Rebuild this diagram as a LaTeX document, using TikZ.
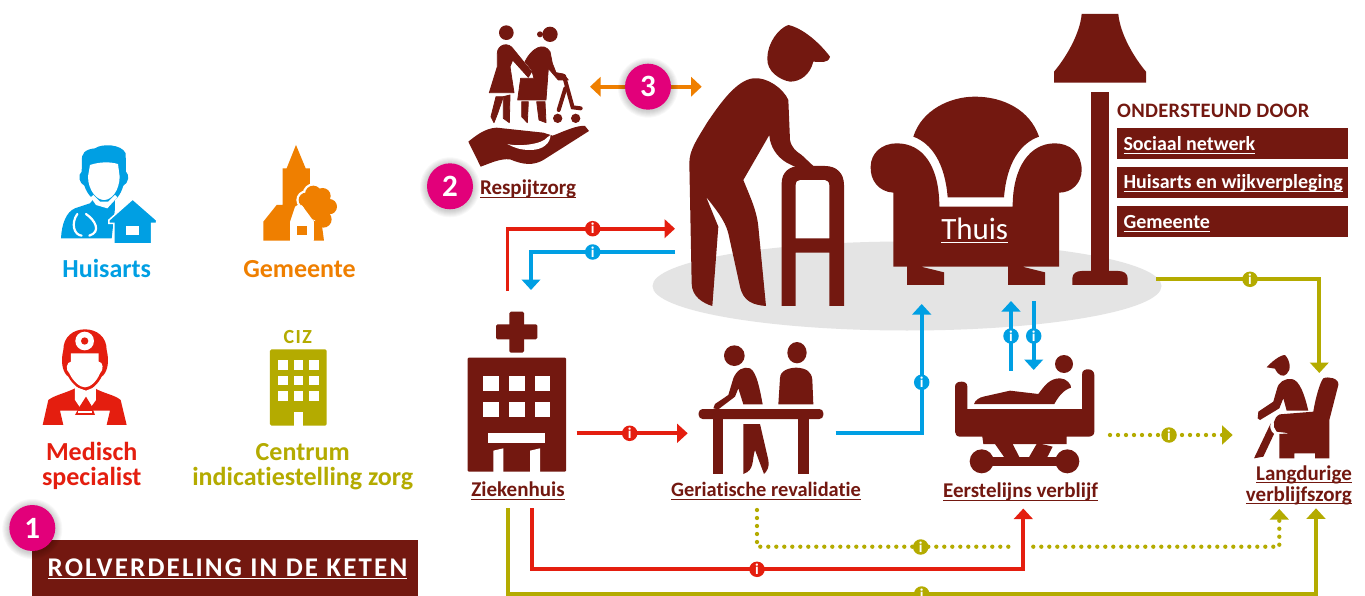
\documentclass[tikz,border=0pt]{standalone}
\usepackage{fontspec}
\setmainfont{Carlito}[Ligatures=NoCommon]
\usetikzlibrary{arrows.meta,calc}
\definecolor{maroon}{HTML}{731810}
\definecolor{cblue}{HTML}{009FE3}
\definecolor{corange}{HTML}{EF7F00}
\definecolor{cred}{HTML}{E41E0F}
\definecolor{colive}{HTML}{B4AB00}
\definecolor{cmag}{HTML}{E2007A}
\definecolor{cgrey}{HTML}{E4E4E4}
\newcommand{\ulx}[1]{\setbox0=\hbox{#1}\rlap{\vrule width\wd0 height -2.2pt depth 3.3pt}\box0}
\newcommand{\fsz}[1]{\fontsize{#1}{#1}\selectfont}
\newcommand{\softshadow}[2]{\foreach \rr in {24,25,26,27,28,29,30}{\fill[black,opacity=.028] (#1,#2+1) circle[radius=\rr];}}
\tikzset{
 za/.style={shift={(0pt,-120pt)},x=.33333pt,y=-.33333pt},
 zb/.style={shift={(420pt,0pt)},x=.33333pt,y=-.33333pt},
 zc/.style={shift={(860pt,0pt)},x=.33333pt,y=-.33333pt},
 zd/.style={shift={(450pt,-300pt)},x=.33333pt,y=-.33333pt},
 ze/.style={shift={(900pt,-290pt)},x=.33333pt,y=-.33333pt},
 lbl/.style={anchor=base,inner sep=0pt,font=\bfseries\fsz{21}},
 role/.style={anchor=base,inner sep=0pt,align=center,font=\bfseries\fontsize{26}{25}\selectfont},
 numdot/.style={circle,fill=cmag,inner sep=0pt,minimum size=46pt,text=white,font=\bfseries\fsz{31}},
 ibadge/.style={circle,fill=#1,inner sep=0pt,minimum size=15.5pt,text=white,font=\bfseries\fsz{15}},
 flow/.style={line width=3.8pt,-{Triangle[width=18.5pt,length=10.5pt]}},
 dots/.style={line width=4.3pt,line cap=round,dash pattern=on 0pt off 8pt},
 dotflow/.style={dots,-{Triangle[width=18.5pt,length=10.5pt]}},
 tag/.style={fill=maroon,anchor=north west,inner sep=0pt,minimum width=231pt,minimum height=31pt},
 tagtext/.style={anchor=base west,inner sep=0pt,text=white,font=\bfseries\fsz{20}},
 fat/.style={fill=maroon,draw=maroon,line width=.8pt,line join=round},
}
\begin{document}
\begin{tikzpicture}[x=1pt,y=-1pt]
\useasboundingbox (0,0) rectangle (1365,596);
\clip (0,0) rectangle (1365,596);
\fill[white] (0,0) rectangle (1365,596);
% floor
\fill[cgrey] (907,286) ellipse[x radius=254.5,y radius=44.5];

% ---------- Huisarts icon
\begin{scope}[za]
 \fill[cblue] (183,355) .. controls (185,310) and (200,275) .. (225,265) -- (270,250) -- (285,232) -- (345,232) -- (345,265) -- (335,355) -- cycle;
 \fill[cblue] (246,125) .. controls (243,100) and (255,88) .. (285,85) .. controls (305,70) and (365,72) .. (377,100) -- (378,155) .. controls (390,165) and (385,190) .. (370,197) .. controls (362,225) and (345,250) .. (315,252) .. controls (285,250) and (262,225) .. (253,197) .. controls (238,190) and (232,165) .. (245,155) -- cycle;
 \fill[white] (264,170) -- (270,135) .. controls (300,125) and (330,125) .. (354,132) -- (359,170) .. controls (358,212) and (335,240) .. (312,240) .. controls (290,240) and (265,212) .. (264,170) -- cycle;
 \fill[white] (272,232) -- (288,255) -- (322,265) -- (352,232) -- (345,225) -- (325,245) -- (300,245) -- (280,225) -- cycle;
 \draw[white,line width=2.2pt,line cap=round] (232,282) .. controls (212,310) and (222,345) .. (245,347);
 \draw[white,line width=2.2pt,line cap=round] (258,282) .. controls (285,300) and (305,335) .. (268,347);
 \fill[cblue,draw=white,line width=1.5pt] (398,237) -- (470,300) -- (470,310) -- (455,310) -- (455,372) -- (342,372) -- (342,310) -- (327,310) -- (327,300) -- cycle;
 \fill[white] (378,317) rectangle (418,345);
\end{scope}
% ---------- Gemeente icon
\begin{scope}[za]
 \fill[corange] (888,75) -- (917,145) -- (930,145) -- (930,230) -- (885,260) -- (870,305) -- (870,362) -- (790,362) -- (790,305) -- (830,255) -- (848,255) -- (848,145) -- (860,145) -- cycle;
 \foreach \cx/\cy/\cr in {918/240/22,940/222/25,968/228/24}{\fill[white] (\cx,\cy) circle[radius=\cr+7];}
 \fill[corange] (940,362) -- (972,362) -- (965,310) -- (935,300) -- cycle;
 \foreach \cx/\cy/\cr in {918/240/22,940/222/25,968/228/24,988/260/23,970/298/25,945/265/35}{\fill[corange] (\cx,\cy) circle[radius=\cr];}
 \fill[white] (905,255) -- (942,305) -- (942,362) -- (872,362) -- (872,305) -- cycle;
 \fill[corange] (890,317) rectangle (921,345);
\end{scope}
% ---------- Medisch specialist icon
\begin{scope}[za]
 \fill[cred] (128,915) -- (145,840) .. controls (165,825) and (195,820) .. (225,805) -- (285,805) .. controls (310,820) and (345,825) .. (362,840) -- (380,915) -- (320,915) -- (330,872) -- (180,872) -- (190,915) -- cycle;
 \fill[cred] (190,690) .. controls (180,730) and (190,760) .. (205,770) .. controls (215,790) and (240,812) .. (255,812) .. controls (275,812) and (295,790) .. (305,770) .. controls (320,760) and (330,730) .. (320,690) .. controls (320,650) and (290,628) .. (255,628) .. controls (220,628) and (190,650) .. (190,690) -- cycle;
 \fill[white] (213,700) -- (296,700) -- (296,725) .. controls (310,725) and (312,750) .. (300,760) .. controls (290,785) and (270,802) .. (255,802) .. controls (240,802) and (220,785) .. (208,760) .. controls (195,750) and (200,725) .. (213,725) -- cycle;
 \fill[white] (254,663) circle[radius=28];
 \fill[cred] (254,663) circle[radius=11];
 \fill[white] (225,800) -- (225,840) -- (240,862) -- (258,838) -- (272,862) -- (288,840) -- (288,800) -- (258,812) -- cycle;
 \fill[cred] (258,830) -- (275,858) -- (285,885) -- (225,885) -- (240,858) -- cycle;
 \fill[white] (235,872) rectangle (275,878);
\end{scope}
% ---------- CIZ building
\begin{scope}[za]
 \fill[colive,rounded corners=1.5pt] (810,688) rectangle (980,917);
 \foreach \wx in {834,881,928}{\foreach \wy in {720,767,814}{\fill[white] (\wx,\wy) rectangle ++(29,29);}}
 \fill[white] (881,875) rectangle (909,917);
\end{scope}
% ---------- Respijtzorg icon
\begin{scope}[zb]
 \fill[maroon] (259,98) circle[radius=22];
 \fill[maroon] (390,103) circle[radius=23];
 \fill[maroon] (360,103) circle[radius=9];
 \fill[fat] (232,160) .. controls (232,135) and (265,122) .. (282,150) -- (335,215) -- (325,232) -- (278,180) -- (270,200) -- (282,278) -- (208,278) -- (232,200) -- cycle;
 \fill[fat] (228,290) -- (250,290) -- (233,340) -- (222,368) -- (213,350) -- cycle;
 \fill[fat] (250,290) -- (270,285) -- (268,368) -- (250,355) -- cycle;
 \fill[fat] (315,185) .. controls (335,145) and (370,125) .. (390,155) -- (397,190) -- (408,218) -- (430,222) -- (445,240) -- (415,240) -- (385,205) -- (378,300) -- (293,300) -- (302,235) -- (342,235) -- (335,210) -- cycle;
 \fill[fat] (305,305) -- (325,305) -- (322,368) -- (305,350) -- cycle;
 \fill[fat] (350,305) -- (375,305) -- (378,368) -- (357,360) -- cycle;
 \draw[maroon,line width=4pt,line cap=round] (432,228) -- (458,322) -- (482,325);
 \draw[maroon,line width=4pt,line cap=round] (436,265) -- (416,330);
 \fill[maroon] (413,355) circle[radius=14];
 \fill[maroon] (467,355) circle[radius=14];
 \fill[maroon] (145,425) .. controls (170,405) and (195,385) .. (230,383) -- (370,398) -- (398,407) .. controls (430,395) and (470,375) .. (495,378) -- (507,393) -- (370,480) .. controls (340,497) and (310,495) .. (270,478) .. controls (240,475) and (210,490) .. (182,500) -- cycle;
 \fill[white] (262,432) .. controls (290,440) and (365,435) .. (382,412) -- (392,405) .. controls (390,430) and (370,450) .. (330,450) .. controls (300,450) and (280,442) .. (262,432) -- cycle;
\end{scope}
% ---------- Elderly person with walker
\begin{scope}[zb]
 \fill[maroon] (1105,75) .. controls (1150,85) and (1200,130) .. (1230,170) .. controls (1225,192) and (1200,185) .. (1180,185) .. controls (1170,225) and (1140,245) .. (1110,245) .. controls (1080,240) and (1040,215) .. (1042,175) .. controls (1042,130) and (1075,85) .. (1105,75) -- cycle;
 \fill[maroon] (1000,235) .. controls (1040,230) and (1090,265) .. (1105,300) -- (1110,420) .. controls (1115,445) and (1130,455) .. (1145,465) -- (1180,498) -- (1145,510) -- (1100,488) .. controls (1070,470) and (1050,440) .. (1048,405) -- (970,540) .. controls (990,590) and (1010,630) .. (1015,680) -- (1038,918) .. controls (1000,915) and (970,905) .. (960,860) -- (925,700) .. controls (915,660) and (885,625) .. (858,590) -- (895,680) -- (877,918) .. controls (850,910) and (815,890) .. (815,850) -- (808,490) .. controls (808,450) and (830,420) .. (860,370) .. controls (900,310) and (950,240) .. (1000,235) -- cycle;
 \fill[maroon,even odd rule] (1085,918) -- (1085,550) .. controls (1085,515) and (1110,498) .. (1140,498) -- (1215,498) .. controls (1250,498) and (1272,520) .. (1272,555) -- (1272,918) -- (1228,918) -- (1228,758) -- (1127,758) -- (1127,918) -- cycle
  (1127,715) -- (1228,715) -- (1228,555) .. controls (1228,545) and (1220,540) .. (1215,540) -- (1140,540) .. controls (1132,540) and (1127,545) .. (1127,555) -- cycle;
\end{scope}
% ---------- Armchair and lamp
\begin{scope}[zc]
 \fill[maroon] (160,410) .. controls (185,330) and (270,290) .. (345,290) .. controls (430,290) and (510,330) .. (537,410) .. controls (480,430) and (440,490) .. (432,592) -- (263,592) .. controls (255,490) and (215,430) .. (160,410) -- cycle;
 \fill[maroon] (100,578) .. controls (55,575) and (30,540) .. (32,500) .. controls (32,460) and (65,430) .. (110,430) .. controls (190,430) and (238,500) .. (238,620) -- (458,620) .. controls (458,500) and (510,430) .. (585,430) .. controls (630,430) and (665,460) .. (665,510) .. controls (665,550) and (635,578) .. (597,578) -- (597,800) -- (487,800) -- (555,817) -- (555,855) -- (444,855) -- (444,800) -- (183,800) -- (252,817) -- (252,855) -- (141,855) -- (141,800) -- (100,800) -- cycle;
 \fill[maroon] (665,42) -- (775,42) .. controls (780,100) and (820,170) .. (858,215) -- (858,248) -- (582,248) -- (582,215) .. controls (620,170) and (660,100) .. (665,42) -- cycle;
 \fill[maroon] (693,276) rectangle (748,815);
 \fill[maroon] (637,855) -- (637,835) .. controls (637,820) and (650,813) .. (665,813) -- (775,813) .. controls (790,813) and (803,820) .. (803,835) -- (803,855) -- cycle;
\end{scope}
% ---------- Hospital
\begin{scope}[zd]
 \fill[maroon,rounded corners=1.5pt] (178,35) rectangle (222,158);
 \fill[maroon,rounded corners=1.5pt] (138,73) rectangle (262,118);
 \fill[maroon,rounded corners=1pt] (53,173) rectangle (348,515);
 \foreach \wx in {100,177,254}{\foreach \wy in {227,305}{\fill[white] (\wx,\wy) rectangle ++(47,47);}}
 \fill[white] (115,398) rectangle (285,430);
 \fill[white] (130,516) -- (130,452) -- (160,445) -- (160,516) -- cycle;
 \fill[white] (240,516) -- (240,452) -- (270,445) -- (270,516) -- cycle;
\end{scope}
% ---------- Rehabilitation icon
\begin{scope}[zd]
 \fill[maroon,rounded corners=4pt] (746,327) rectangle (1120,357);
 \fill[maroon] (790,350) rectangle (820,522);
 \fill[maroon] (1045,350) rectangle (1076,522);
 \fill[maroon] (853,167) circle[radius=31];
 \fill[maroon] (850,235) .. controls (860,210) and (880,198) .. (900,205) .. controls (920,215) and (930,270) .. (938,313) -- (880,313) -- (865,265) -- (855,290) -- (805,328) -- (790,325) -- (795,312) -- (835,285) -- cycle;
 \fill[maroon] (880,372) -- (930,372) -- (955,480) .. controls (960,500) and (950,515) .. (942,522) -- (915,450) .. controls (905,480) and (915,510) .. (880,522) -- cycle;
 \fill[maroon] (1041,158) ellipse[x radius=29,y radius=32];
 \fill[maroon] (985,313) -- (990,235) .. controls (990,210) and (1020,203) .. (1040,203) .. controls (1070,205) and (1085,215) .. (1087,240) -- (1090,313) -- cycle;
\end{scope}
% ---------- Bed icon
\begin{scope}[ze]
 \fill[maroon] (165,290) .. controls (165,278) and (175,275) .. (185,275) .. controls (195,275) and (202,280) .. (202,290) -- (202,357) -- (546,357) -- (546,255) .. controls (546,240) and (555,238) .. (565,238) .. controls (575,238) and (583,245) .. (583,255) -- (583,425) .. controls (583,435) and (575,440) .. (565,440) -- (500,440) -- (500,462) -- (250,462) -- (247,440) -- (180,440) .. controls (170,440) and (165,432) .. (165,425) -- cycle;
 \fill[maroon] (285,462) -- (315,505) -- (360,505) -- (338,462) -- cycle;
 \fill[maroon] (410,462) -- (385,505) -- (440,505) -- (458,470) -- (425,462) -- cycle;
 \fill[maroon] (245,500) rectangle (502,528);
 \fill[maroon] (245,514) circle[radius=36];
 \fill[maroon] (502,514) circle[radius=36];
 \fill[maroon] (492,222) circle[radius=27];
 \fill[maroon] (222,342) .. controls (225,330) and (240,322) .. (250,320) -- (330,302) -- (415,312) .. controls (435,285) and (450,265) .. (480,265) .. controls (500,265) and (515,285) .. (513,293) .. controls (490,300) and (475,320) .. (463,342) -- cycle;
\end{scope}
% ---------- Long-term care icon
\begin{scope}[ze]
 \fill[maroon] (1100,232) .. controls (1115,215) and (1140,195) .. (1155,195) .. controls (1170,210) and (1175,240) .. (1160,252) .. controls (1150,262) and (1135,258) .. (1125,236) -- cycle;
 \fill[maroon] (1130,300) .. controls (1135,275) and (1155,265) .. (1175,267) .. controls (1200,270) and (1215,320) .. (1225,362) -- (1160,362) -- (1150,325) -- (1138,355) -- (1080,390) -- (1073,385) -- (1075,365) -- (1120,335) -- cycle;
 \fill[maroon] (1240,365) .. controls (1245,330) and (1260,275) .. (1270,265) .. controls (1285,258) and (1318,265) .. (1315,285) -- (1288,390) -- (1288,505) -- (1245,505) -- (1245,490) -- (1183,490) -- (1183,505) -- (1138,505) -- (1138,432) -- (1170,430) -- (1130,425) .. controls (1115,410) and (1120,380) .. (1140,373) -- cycle;
 \fill[maroon] (1112,400) -- (1062,505) -- (1090,500) -- (1122,432) .. controls (1112,425) and (1108,410) .. (1112,400) -- cycle;
\end{scope}

% ---------- connector ends
\coordinate (rA) at (507.5,291);  \coordinate (rB) at (507.5,228.7); \coordinate (rC) at (675,228.7);
\coordinate (bA) at (675,252);    \coordinate (bB) at (531,252);     \coordinate (bC) at (531,290);
\coordinate (oA) at (590,86.7);   \coordinate (oB) at (701.7,86.7);
\coordinate (yA) at (1156,279.3); \coordinate (yB) at (1319.3,279.3);\coordinate (yC) at (1319.3,373);
\coordinate (zkOutR) at (576.7,433.3); \coordinate (grIn) at (687.7,433.3);
\coordinate (grOut) at (835.7,433.3); \coordinate (grT) at (921.7,433.3); \coordinate (thIn) at (921.7,304);
\coordinate (evU1) at (1011,370.7); \coordinate (evU2) at (1011,301);
\coordinate (evD1) at (1033.7,301); \coordinate (evD2) at (1033.7,370);
\coordinate (evOut) at (1110,435); \coordinate (lvIn) at (1232.7,435);
\coordinate (rdA) at (532,508.3); \coordinate (rdB) at (532,569.3); \coordinate (rdC) at (1023.3,569.3); \coordinate (rdD) at (1023.3,508.5);
\coordinate (olA) at (508.3,508.3); \coordinate (olB) at (508.3,594); \coordinate (olC) at (1316,594); \coordinate (olD) at (1316,508.3);
\coordinate (dtA) at (757,510); \coordinate (dtB) at (757,546.7); \coordinate (dtC) at (1013.3,546.7);
\coordinate (dtD) at (1033.3,546.7); \coordinate (dtE) at (1279.3,546.7); \coordinate (dtF) at (1279.3,509);

% ---------- connectors
\draw[flow,cred,line join=miter] (rA) -- (rB) -- (rC);
\draw[flow,cblue] (bA) -- (bB) -- (bC);
\draw[line width=3.8pt,corange,{Triangle[width=19pt,length=10.5pt]}-{Triangle[width=19pt,length=10.5pt]}] (oA) -- (oB);
\draw[flow,colive] (yA) -- (yB) -- (yC);
\draw[flow,cred] (zkOutR) -- (grIn);
\draw[flow,cblue] (grOut) -- (grT) -- (thIn);
\draw[flow,cblue] (evU1) -- (evU2);
\draw[flow,cblue] (evD1) -- (evD2);
\draw[dotflow,colive] (evOut) -- (lvIn);
\draw[flow,cred] (rdA) -- (rdB) -- (rdC) -- (rdD);
\draw[flow,colive] (olA) -- (olB) -- (olC) -- (olD);
\draw[dots,colive] (dtA) -- (dtB) -- (dtC);
\draw[dotflow,colive] (dtD) -- (dtE) -- (dtF);

% ---------- info badges
\node[ibadge=cred] (i1) at (592.7,228.7) {i};
\node[ibadge=cblue] (i2) at (592.7,252) {i};
\node[ibadge=colive] (i3) at (1250,279.3) {i};
\node[ibadge=cred] (i4) at (629.7,433.3) {i};
\node[ibadge=cblue] (i5) at (921.7,382.3) {i};
\node[ibadge=cblue] (i6) at (1011,336) {i};
\node[ibadge=cblue] (i7) at (1033.7,336) {i};
\node[ibadge=colive] (i8) at (1169,435) {i};
\node[ibadge=colive] (i9) at (920.7,547) {i};
\node[ibadge=cred] (i10) at (757,569.3) {i};
\node[ibadge=colive] (i11) at (921.7,594) {i};

% ---------- title and numbers
\fill[maroon] (32,540) rectangle (418,596);
\node[anchor=base,inner sep=0pt,text=white,font=\bfseries\fsz{27}] (title) at (227.5,576) {\addfontfeature{LetterSpace=8}\ulx{ROLVERDELING IN DE KETEN}};
\softshadow{32.3}{528}
\node[numdot] (n1) at (32.3,528) {1};
\softshadow{450}{186.3}
\node[numdot] (n2) at (450,186.3) {2};
\softshadow{648}{86.7}
\node[numdot] (n3) at (648,86.7) {3};

% ---------- role labels
\node[role,text=cblue] (huisarts) at (106.7,277.7) {Huisarts};
\node[role,text=corange] (gemeente) at (299.5,277.7) {Gemeente};
\node[role,text=cred] (medisch) at (91.7,485) {Medisch\\specialist};
\node[role,text=colive] (ciz) at (297.7,343) {\fsz{20}\addfontfeature{LetterSpace=7}CIZ};
\node[role,text=colive] (centrum) at (302.7,485) {Centrum\\indicatiestelling zorg};

% ---------- place labels
\node[lbl,text=maroon] (resp) at (528,195) {\ulx{Respijtzorg}};
\node[lbl,text=maroon] (zk) at (518,496.7) {\ulx{Ziekenhuis}};
\node[lbl,text=maroon,font=\bfseries\fsz{20.4}] (gr) at (766,496.7) {\ulx{Geriatische revalidatie}};
\node[lbl,text=maroon] (ev) at (1020.6,497.3) {\ulx{Eerstelijns verblijf}};
\node[lbl,text=maroon,anchor=base east] (lv1) at (1352,480) {\ulx{Langdurige}};
\node[lbl,text=maroon,anchor=base east] (lv2) at (1352,501) {\ulx{verblijfszorg}};
\node[anchor=base,inner sep=0pt,text=white,font=\fsz{31}] (thuis) at (974.7,240) {\ulx{Thuis}};

% ---------- supported by
\node[anchor=base west,inner sep=0pt,text=maroon,font=\bfseries\fsz{20.5}] (ond) at (1117,118) {\addfontfeature{LetterSpace=1.5}ONDERSTEUND DOOR};
\node[tag] (t1) at (1117,128) {};
\node[tag] (t2) at (1117,167) {};
\node[tag] (t3) at (1117,206) {};
\node[tagtext] (tt1) at (1123.3,150.5) {\ulx{Sociaal netwerk}};
\node[tagtext] (tt2) at (1123.3,188.5) {\ulx{Huisarts en wijkverpleging}};
\node[tagtext] (tt3) at (1123.3,228.3) {\ulx{Gemeente}};
\end{tikzpicture}
\end{document}
